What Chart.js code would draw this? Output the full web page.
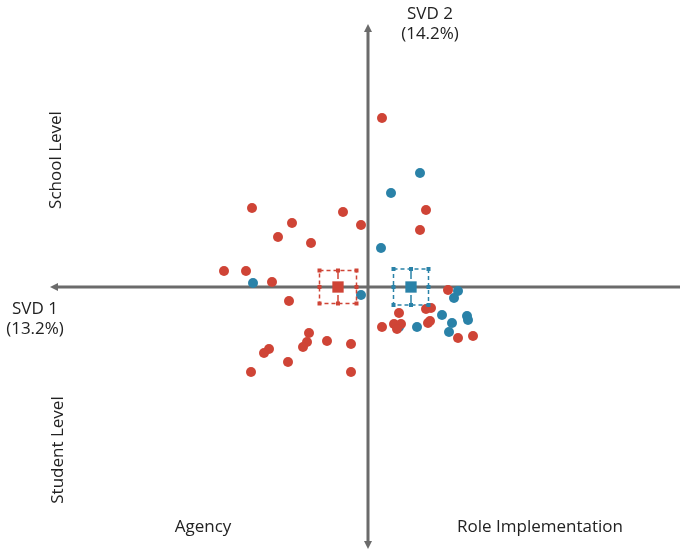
<!DOCTYPE html>
<html>
<head>
<meta charset="utf-8">
<script src="https://cdn.jsdelivr.net/npm/chart.js@4"></script>
<style>
  html, body { margin: 0; padding: 0; background: #fff; }
  #wrap { width: 682px; height: 552px; }
</style>
</head>
<body>
<div id="wrap"><canvas id="c"></canvas></div>
<script>
// agency group (red)
const agencyX = [-1.16, -0.25, -0.76, -0.07, -0.90, -0.57, 0.58, 0.52, -1.44, -1.22, -0.96, -0.79, 0.80, 0.31, 0.58, 0.63, 0.14, 0.26, 0.33, 0.29, 0.60, 0.62, 0.90, 1.05, -0.59, -0.61, -0.65, -0.41, -0.17, -0.99, -1.04, -0.80, -1.17, -0.17, 0.14];
const agencyY = [0.79, 0.75, 0.64, 0.62, 0.50, 0.44, 0.77, 0.57, 0.16, 0.16, 0.05, -0.14, -0.03, -0.26, -0.22, -0.21, -0.40, -0.37, -0.37, -0.42, -0.36, -0.34, -0.51, -0.49, -0.46, -0.55, -0.60, -0.54, -0.57, -0.62, -0.66, -0.75, -0.85, -0.85, 1.69];
// role implementation group (blue)
const roleX = [0.52, 0.23, 0.13, -1.15, -0.07, 0.90, 0.86, 0.74, 0.84, 0.81, 0.99, 1.00, 0.49, 0.31];
const roleY = [1.14, 0.94, 0.39, 0.04, -0.08, -0.04, -0.11, -0.28, -0.36, -0.45, -0.29, -0.33, -0.40, -0.40];
// group means and spread
const agencyMean = [-0.30, 0.00];
const agencyErr = [0.185, 0.165];
const roleMean = [0.43, 0.00];
const roleErr = [0.175, 0.18];

const red = '#cf4436';
const blue = '#2a82a8';
const axisGray = '#6b6b6b';

const toPts = (xs, ys) => xs.map((x, i) => ({x: x, y: ys[i]}));

const errBoxes = {
  id: 'errBoxes',
  afterDatasetsDraw(chart) {
    const {ctx, scales: {x, y}} = chart;
    [[agencyMean, agencyErr, red], [roleMean, roleErr, blue]].forEach(([m, e, col]) => {
      const l = x.getPixelForValue(m[0] - e[0]), r = x.getPixelForValue(m[0] + e[0]);
      const t = y.getPixelForValue(m[1] + e[1]), b = y.getPixelForValue(m[1] - e[1]);
      const cx = x.getPixelForValue(m[0]), cy = y.getPixelForValue(m[1]);
      ctx.save();
      ctx.strokeStyle = col;
      ctx.fillStyle = col;
      ctx.lineWidth = 1.5;
      ctx.setLineDash([4, 3]);
      ctx.strokeRect(l, t, r - l, b - t);
      ctx.setLineDash([]);
      ctx.beginPath();
      ctx.moveTo(cx, t); ctx.lineTo(cx, cy - 8);
      ctx.moveTo(cx, b); ctx.lineTo(cx, cy + 8);
      ctx.stroke();
      [[l, t], [cx, t], [r, t], [l, cy], [r, cy], [l, b], [cx, b], [r, b]].forEach(([px, py]) => {
        ctx.fillRect(px - 2, py - 2, 4, 4);
      });
      ctx.restore();
    });
  }
};

const axesArrows = {
  id: 'axesArrows',
  beforeDatasetsDraw(chart) {
    const {ctx, scales: {x, y}} = chart;
    const x0 = x.getPixelForValue(0), y0 = y.getPixelForValue(0);
    const top = y.getPixelForValue(2.63), bot = y.getPixelForValue(-2.62);
    const left = x.getPixelForValue(-3.18), right = x.getPixelForValue(3.12);
    ctx.save();
    ctx.strokeStyle = axisGray;
    ctx.fillStyle = axisGray;
    ctx.lineWidth = 3;
    ctx.beginPath();
    ctx.moveTo(x0, top + 4); ctx.lineTo(x0, bot - 4);
    ctx.moveTo(left + 4, y0); ctx.lineTo(right, y0);
    ctx.stroke();
    const head = (px, py, dx, dy) => {
      ctx.beginPath();
      ctx.moveTo(px, py);
      ctx.lineTo(px - dx * 8 + dy * 4, py - dy * 8 + dx * 4);
      ctx.lineTo(px - dx * 8 - dy * 4, py - dy * 8 - dx * 4);
      ctx.closePath();
      ctx.fill();
    };
    head(x0, top, 0, -1);
    head(x0, bot, 0, 1);
    head(left, y0, -1, 0);

    ctx.fillStyle = '#222';
    ctx.font = '17px "Open Sans"';
    ctx.textAlign = 'center';
    ctx.textBaseline = 'middle';
    ctx.fillText('SVD 2', 430, 14);
    ctx.fillText('(14.2%)', 430, 34);
    ctx.fillText('SVD 1', 35, 309);
    ctx.fillText('(13.2%)', 35, 329);
    ctx.fillText('Agency', 203, 527);
    ctx.fillText('Role Implementation', 540, 527);
    ctx.save();
    ctx.translate(56, 160);
    ctx.rotate(-Math.PI / 2);
    ctx.fillText('School Level', 0, 0);
    ctx.restore();
    ctx.save();
    ctx.translate(58, 450);
    ctx.rotate(-Math.PI / 2);
    ctx.fillText('Student Level', 0, 0);
    ctx.restore();
    ctx.restore();
  }
};

new Chart(document.getElementById('c'), {
  type: 'scatter',
  data: {
    datasets: [
      {
        label: 'Agency',
        data: toPts(agencyX, agencyY),
        backgroundColor: red,
        borderColor: red,
        pointRadius: 5,
        pointBorderWidth: 0
      },
      {
        label: 'Role Implementation',
        data: toPts(roleX, roleY),
        backgroundColor: blue,
        borderColor: blue,
        pointRadius: 5,
        pointBorderWidth: 0
      },
      {
        label: 'Means',
        data: [{x: agencyMean[0], y: agencyMean[1]}, {x: roleMean[0], y: roleMean[1]}],
        backgroundColor: [red, blue],
        borderColor: [red, blue],
        pointStyle: 'rect',
        pointRadius: 8,
        pointBorderWidth: 0
      }
    ]
  },
  options: {
    responsive: true,
    maintainAspectRatio: false,
    animation: false,
    layout: { padding: 0, autoPadding: false },
    plugins: {
      legend: { display: false },
      tooltip: { enabled: false }
    },
    scales: {
      x: { display: false, min: -3.68, max: 3.14 },
      y: { display: false, min: -2.65, max: 2.87 }
    }
  },
  plugins: [axesArrows, errBoxes]
});
</script>
</body>
</html>
